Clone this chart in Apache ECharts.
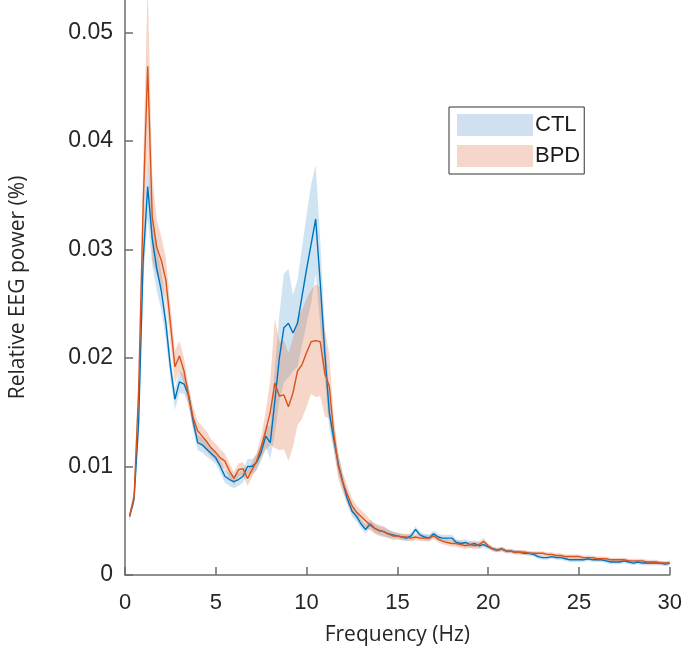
<!DOCTYPE html>
<html>
<head>
<meta charset="utf-8">
<script src="https://cdn.jsdelivr.net/npm/echarts@6/dist/echarts.min.js"></script>
<style>
html,body{margin:0;padding:0;background:#fff;}
#chart{width:685px;height:655px;}
</style>
</head>
<body>
<div id="chart"></div>
<script>
// Frequency bins (Hz)
var freq = [];
for (var i = 1; i <= 120; i++) freq.push(i * 0.25);

// Mean relative EEG power, CTL group
var ctlMean = [
0.0054,0.0070,0.0140,0.0290,0.0358,0.0310,0.0282,0.0262,0.0232,0.0192,
0.0162,0.0178,0.0176,0.0166,0.0142,0.0122,0.0120,0.0116,0.0112,0.0108,
0.0100,0.0091,0.0088,0.0086,0.0088,0.0091,0.0100,0.0100,0.0104,0.0113,
0.0128,0.0122,0.0160,0.0200,0.0228,0.0232,0.0223,0.0232,0.0257,0.0282,
0.0305,0.0328,0.0270,0.0205,0.0150,0.0125,0.0102,0.0085,0.0070,0.0059,
0.0054,0.0047,0.0042,0.0047,0.0043,0.0041,0.0040,0.0038,0.0037,0.0036,
0.0035,0.0034,0.0036,0.0042,0.0037,0.0035,0.0034,0.0038,0.0035,0.0034,
0.0034,0.0034,0.0030,0.0029,0.0030,0.0028,0.0029,0.0027,0.0028,0.0026,
0.0024,0.0023,0.0024,0.0022,0.0022,0.0021,0.0021,0.0020,0.0020,0.0019,
0.0017,0.0016,0.0016,0.0017,0.0016,0.0016,0.0015,0.0014,0.0014,0.0014,
0.0014,0.0015,0.0014,0.0014,0.0014,0.0013,0.0012,0.0012,0.0012,0.0013,
0.0012,0.0011,0.0012,0.0011,0.0011,0.0011,0.0011,0.0011,0.0010,0.0011
];
// Half-width of CTL shaded band
var ctlErr = [
0.0003,0.0005,0.0010,0.0020,0.0030,0.0025,0.0020,0.0018,0.0015,0.0012,
0.0010,0.0010,0.0009,0.0008,0.0008,0.0007,0.0007,0.0007,0.0006,0.0006,
0.0006,0.0006,0.0006,0.0006,0.0006,0.0006,0.0007,0.0007,0.0007,0.0008,
0.0010,0.0015,0.0030,0.0040,0.0050,0.0050,0.0035,0.0040,0.0045,0.0050,
0.0055,0.0050,0.0040,0.0025,0.0015,0.0010,0.0009,0.0007,0.0006,0.0005,
0.0005,0.0004,0.0004,0.0004,0.0004,0.0004,0.0004,0.0004,0.0003,0.0003,
0.0003,0.0003,0.0003,0.0003,0.0003,0.0003,0.0003,0.0003,0.0003,0.0003,
0.0003,0.0003,0.0003,0.0003,0.0003,0.0003,0.0003,0.0003,0.0003,0.0002,
0.0002,0.0002,0.0002,0.0002,0.0002,0.0002,0.0002,0.0002,0.0002,0.0002,
0.0002,0.0002,0.0002,0.0002,0.0002,0.0002,0.0002,0.0002,0.0002,0.0002,
0.0002,0.0002,0.0002,0.0002,0.0002,0.0002,0.0002,0.0002,0.0002,0.0002,
0.0002,0.0002,0.0002,0.0002,0.0002,0.0002,0.0002,0.0002,0.0002,0.0002
];
// Mean relative EEG power, BPD group
var bpdMean = [
0.0054,0.0072,0.0170,0.0340,0.0469,0.0330,0.0302,0.0290,0.0272,0.0232,
0.0192,0.0202,0.0188,0.0165,0.0145,0.0133,0.0128,0.0123,0.0117,0.0113,
0.0108,0.0105,0.0096,0.0089,0.0097,0.0098,0.0089,0.0097,0.0105,0.0118,
0.0133,0.0150,0.0177,0.0165,0.0166,0.0155,0.0168,0.0188,0.0194,0.0205,
0.0215,0.0216,0.0215,0.0186,0.0174,0.0130,0.0100,0.0085,0.0074,0.0064,
0.0058,0.0054,0.0050,0.0046,0.0043,0.0041,0.0040,0.0038,0.0036,0.0036,
0.0035,0.0035,0.0034,0.0035,0.0034,0.0034,0.0034,0.0036,0.0033,0.0031,
0.0030,0.0029,0.0029,0.0028,0.0027,0.0028,0.0027,0.0028,0.0031,0.0027,
0.0024,0.0023,0.0024,0.0022,0.0022,0.0021,0.0021,0.0021,0.0020,0.0020,
0.0020,0.0020,0.0019,0.0019,0.0018,0.0018,0.0017,0.0017,0.0017,0.0017,
0.0016,0.0016,0.0016,0.0015,0.0015,0.0015,0.0014,0.0014,0.0014,0.0014,
0.0013,0.0013,0.0013,0.0013,0.0012,0.0012,0.0012,0.0011,0.0011,0.0011
];
// Half-width of BPD shaded band
var bpdErr = [
0.0004,0.0006,0.0015,0.0040,0.0075,0.0040,0.0025,0.0022,0.0020,0.0018,
0.0015,0.0014,0.0012,0.0010,0.0010,0.0009,0.0009,0.0009,0.0008,0.0008,
0.0008,0.0007,0.0007,0.0006,0.0006,0.0006,0.0007,0.0007,0.0008,0.0010,
0.0018,0.0030,0.0060,0.0050,0.0050,0.0050,0.0050,0.0050,0.0050,0.0050,
0.0048,0.0052,0.0050,0.0040,0.0030,0.0015,0.0012,0.0009,0.0008,0.0007,
0.0006,0.0006,0.0006,0.0005,0.0005,0.0005,0.0005,0.0004,0.0004,0.0003,
0.0003,0.0003,0.0003,0.0003,0.0003,0.0003,0.0003,0.0003,0.0003,0.0003,
0.0003,0.0003,0.0003,0.0003,0.0003,0.0003,0.0003,0.0003,0.0003,0.0002,
0.0002,0.0002,0.0002,0.0002,0.0002,0.0002,0.0002,0.0002,0.0002,0.0002,
0.0002,0.0002,0.0002,0.0002,0.0002,0.0002,0.0002,0.0002,0.0002,0.0002,
0.0002,0.0002,0.0002,0.0002,0.0002,0.0002,0.0002,0.0002,0.0002,0.0002,
0.0002,0.0002,0.0002,0.0002,0.0002,0.0002,0.0002,0.0002,0.0002,0.0002
];

var xTicks = [0, 5, 10, 15, 20, 25, 30];
var yTicks = [0, 0.01, 0.02, 0.03, 0.04, 0.05];
var groupNames = ['CTL', 'BPD'];

function pairs(vals) { return freq.map(function (f, i) { return [f, vals[i]]; }); }

var blue = '#0072BD', orange = '#D95319';
var blueBand = 'rgba(0,114,189,0.19)', orangeBand = 'rgba(217,83,25,0.24)';
var tickFont = 'Liberation Sans, Arial, sans-serif';
var titleFont = 'Open Sans, Noto Sans, sans-serif';

// Shaded band (mean ± err) drawn as one polygon through the axis scales
function bandSeries(name, m, e, color) {
  return {
    name: name, type: 'custom', coordinateSystem: 'cartesian2d', silent: true, z: 1,
    itemStyle: { color: color },
    data: [[freq[0], m[0]]],
    renderItem: function (params, api) {
      var pts = [], k;
      for (k = 0; k < freq.length; k++) pts.push(api.coord([freq[k], m[k] + e[k]]));
      for (k = freq.length - 1; k >= 0; k--) pts.push(api.coord([freq[k], m[k] - e[k]]));
      return {
        type: 'polygon',
        shape: { points: pts },
        style: { fill: color, stroke: null },
        clipPath: { type: 'rect', shape: { x: params.coordSys.x, y: params.coordSys.y,
          width: params.coordSys.width, height: params.coordSys.height } }
      };
    }
  };
}

var series = [
  bandSeries(groupNames[0], ctlMean, ctlErr, blueBand),
  bandSeries(groupNames[1], bpdMean, bpdErr, orangeBand),
  { name: 'CTL mean', type: 'line', data: pairs(ctlMean), symbol: 'none',
    lineStyle: { color: blue, width: 1.4 }, z: 3 },
  { name: 'BPD mean', type: 'line', data: pairs(bpdMean), symbol: 'none',
    lineStyle: { color: orange, width: 1.4 }, z: 4 }
];

var chart = echarts.init(document.getElementById('chart'), null, { renderer: 'canvas' });
chart.setOption({
  animation: false,
  backgroundColor: '#fff',
  grid: { left: 120, right: 15, top: 0, bottom: 80, containLabel: false },
  legend: {
    data: [
      { name: groupNames[0], icon: 'rect', itemStyle: { color: '#cfe0f0' } },
      { name: groupNames[1], icon: 'rect', itemStyle: { color: '#f6d6ca' } }
    ],
    orient: 'vertical',
    left: 449, top: 107,
    padding: [7, 4, 7, 8],
    itemWidth: 76, itemHeight: 22, itemGap: 9,
    borderColor: '#333', borderWidth: 1, borderRadius: 0,
    backgroundColor: '#fff',
    selectedMode: false,
    textStyle: { fontFamily: tickFont, fontSize: 22, color: '#1a1a1a', padding: [0, 0, 0, -3] }
  },
  xAxis: {
    type: 'value', min: 0, max: 30, interval: 5,
    name: 'Frequency (Hz)', nameLocation: 'middle', nameGap: 50,
    nameTextStyle: { fontFamily: titleFont, fontSize: 21, color: '#262626' },
    axisLine: { show: true, lineStyle: { color: '#6b6b6b', width: 1.5 } },
    axisTick: { show: true, inside: true, length: 8, lineStyle: { color: '#6b6b6b', width: 1.5 } },
    axisLabel: { fontFamily: tickFont, fontSize: 22, color: '#262626', margin: 17 },
    splitLine: { show: false }
  },
  yAxis: {
    type: 'value', min: 0, max: 0.053,
    name: 'Relative EEG power (%)', nameLocation: 'middle', nameGap: 96,
    nameTextStyle: { fontFamily: titleFont, fontSize: 21, color: '#262626' },
    axisLine: { show: true, lineStyle: { color: '#6b6b6b', width: 1.5 } },
    axisTick: { show: true, inside: true, length: 8, customValues: yTicks, lineStyle: { color: '#6b6b6b', width: 1.5 } },
    axisLabel: { fontFamily: tickFont, fontSize: 23, color: '#262626', margin: 12, customValues: yTicks,
      formatter: function (v) { return v === 0 ? '0' : v.toFixed(2); } },
    splitLine: { show: false }
  },
  series: series
});
</script>
</body>
</html>
